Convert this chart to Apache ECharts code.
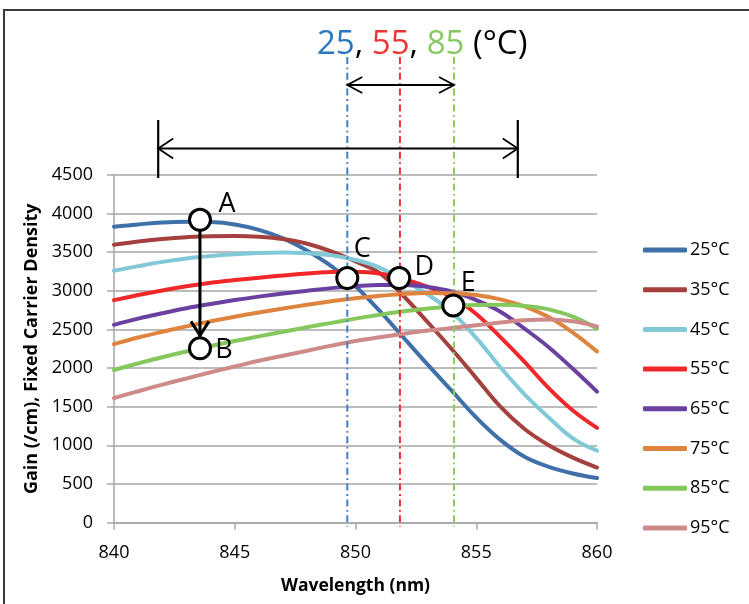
<!DOCTYPE html>
<html><head><meta charset="utf-8">
<script src="https://cdn.jsdelivr.net/npm/echarts@6/dist/echarts.min.js"></script>
<style>html,body{margin:0;padding:0;background:#fff}#c{width:749px;height:604px}</style>
</head><body><div id="c"></div>
<script>
// ---- data ----
const wavelengths = [840,841,842,843,844,845,846,847,848,849,850,851,852,853,854,855,856,857,858,859,860];
const gain25 = [3830,3860,3885,3895,3890,3860,3790,3680,3520,3320,3060,2740,2390,2040,1700,1360,1070,850,720,635,575];
const gain35 = [3596,3640,3672,3695,3708,3710,3700,3670,3610,3510,3380,3230,2930,2590,2240,1870,1500,1210,1000,840,712];
const gain45 = [3260,3320,3375,3420,3452,3475,3490,3495,3488,3460,3400,3300,3130,2950,2720,2390,2010,1660,1360,1090,930];
const gain55 = [2880,2945,3005,3060,3105,3140,3170,3198,3225,3243,3248,3225,3150,3050,2920,2700,2400,2080,1740,1450,1225];
const gain65 = [2560,2640,2710,2775,2830,2880,2925,2965,3000,3035,3060,3075,3075,3050,2990,2880,2730,2510,2270,1990,1695];
const gain75 = [2310,2395,2470,2540,2605,2665,2720,2770,2820,2865,2905,2935,2960,2972,2970,2945,2890,2800,2660,2460,2215];
const gain85 = [1975,2060,2140,2215,2285,2350,2410,2470,2530,2585,2640,2690,2735,2770,2800,2815,2820,2805,2760,2665,2510];
const gain95 = [1610,1700,1785,1865,1945,2020,2095,2160,2225,2290,2350,2400,2445,2485,2520,2555,2590,2620,2630,2605,2540];
const seriesNames = ['25°C','35°C','45°C','55°C','65°C','75°C','85°C','95°C'];
const seriesData = [gain25,gain35,gain45,gain55,gain65,gain75,gain85,gain95];
const seriesColors = ['#3f70aa','#a4403e','#82c9d8','#f0282a','#6a40a0','#df843f','#84c75c','#cd8a89'];
const xTickMin = 840, xTickMax = 860, xTickStep = 5;
const yTickMin = 0, yTickMax = 4500, yTickStep = 500;
const xAxisTitle = 'Wavelength (nm)';
const yAxisTitle = 'Gain (/cm), Fixed Carrier Density';
// annotation points (data coords)
const pointNames = ['A','B','C','D','E'];
const pointX = [843.56,843.56,849.66,851.81,854.05];
const pointY = [3920,2255,3165,3165,2810];
const markerTemps = ['25','55','85'];
const markerX = [849.66,851.84,854.08];
const markerColors = ['#3f80c8','#ee3030','#8ccc5e'];
const spanStart = 841.83, spanEnd = 856.72;

// ---- chart ----
const chart = echarts.init(document.getElementById('c'), null, {renderer:'canvas'});
const FONT = '"Open Sans", sans-serif';
const option = {
  animation:false,
  backgroundColor:'#fff',
  grid:{left:114, right:152, top:175, bottom:81.5, containLabel:false},
  xAxis:{type:'value', min:xTickMin, max:xTickMax, interval:xTickStep,
    name:xAxisTitle, nameLocation:'middle', nameGap:55,
    nameTextStyle:{fontFamily:FONT, fontWeight:'bold', fontSize:17.5, color:'#000'},
    axisLine:{show:true, onZero:false, lineStyle:{color:'#a6a6a6', width:1.5}},
    axisTick:{show:true, length:7, lineStyle:{color:'#a6a6a6', width:1.5}},
    axisLabel:{fontFamily:FONT, fontSize:18, color:'#000', margin:21},
    splitLine:{show:false}},
  yAxis:{type:'value', min:yTickMin, max:yTickMax, interval:yTickStep,
    name:yAxisTitle, nameLocation:'middle', nameGap:70,
    nameTextStyle:{fontFamily:FONT, fontWeight:'bold', fontSize:18, color:'#000'},
    axisLine:{show:true, lineStyle:{color:'#a6a6a6', width:1.5}},
    axisTick:{show:true, length:7, lineStyle:{color:'#a6a6a6', width:1.5}},
    axisLabel:{fontFamily:FONT, fontSize:18, color:'#000', margin:21, formatter:(v)=>String(v)},
    splitLine:{show:true, lineStyle:{color:'#a6a6a6', width:1.5}}},
  legend:{orient:'vertical', left:638, top:236, itemWidth:44, itemHeight:5, itemGap:21.7,
    icon:'roundRect',
    textStyle:{fontFamily:FONT, fontSize:18, color:'#000', lineHeight:18, padding:[0,0,0,-2]},
    data:seriesNames},
  series: seriesNames.map((n,i)=>({
    name:n, type:'line', smooth:0.4, showSymbol:false, symbol:'none',
    color:seriesColors[i],
    lineStyle:{width:4, color:seriesColors[i], cap:'round'},
    data: wavelengths.map((w,j)=>[w, seriesData[i][j]])
  }))
};
chart.setOption(option);

function px(x,y){ return chart.convertToPixel({gridIndex:0},[x,y]); }
const Z = 100;
const g = [];
// frame
g.push({type:'rect', z:Z, silent:true, shape:{x:4, y:10, width:900, height:800},
  style:{fill:null, stroke:'#3a3a3a', lineWidth:2}});
// dashed vertical markers
const axisBottom = px(xTickMin, 0)[1];
markerX.forEach((xv,i)=>{
  const p = px(xv, 0);
  g.push({type:'line', z:Z, silent:true, shape:{x1:p[0], y1:57, x2:p[0], y2:axisBottom+4},
    style:{stroke:markerColors[i], lineWidth:2, lineDash:[7,3.5,1.8,3.5]}});
});
function chevron(tx, ty, dir, len, half, lw){
  let pts;
  if(dir==='l') pts=[[tx+len,ty-half],[tx,ty],[tx+len,ty+half]];
  else if(dir==='r') pts=[[tx-len,ty-half],[tx,ty],[tx-len,ty+half]];
  else pts=[[tx-half,ty-len],[tx,ty],[tx+half,ty-len]];
  return {type:'polyline', z:Z+1, silent:true, shape:{points:pts}, style:{stroke:'#000', lineWidth:lw, fill:null}};
}
// small double arrow
{
  const yA = 85;
  const a = px(markerX[0],0)[0], b = px(markerX[2],0)[0];
  g.push({type:'line', z:Z+1, silent:true, shape:{x1:a, y1:yA, x2:b, y2:yA}, style:{stroke:'#000', lineWidth:1.8}});
  g.push(chevron(a, yA, 'l', 15, 8, 1.8));
  g.push(chevron(b, yA, 'r', 15, 8, 1.8));
}
// big span arrow
{
  const yA = 148.5;
  const a = px(spanStart,0)[0], b = px(spanEnd,0)[0];
  g.push({type:'line', z:Z+1, silent:true, shape:{x1:a, y1:yA, x2:b, y2:yA}, style:{stroke:'#000', lineWidth:1.8}});
  g.push(chevron(a, yA, 'l', 15, 10, 1.8));
  g.push(chevron(b, yA, 'r', 15, 10, 1.8));
  g.push({type:'line', z:Z+1, silent:true, shape:{x1:a, y1:120, x2:a, y2:178}, style:{stroke:'#000', lineWidth:2.2}});
  g.push({type:'line', z:Z+1, silent:true, shape:{x1:b, y1:120, x2:b, y2:178}, style:{stroke:'#000', lineWidth:2.2}});
}
// title "25, 55, 85 (°C)"
g.push({type:'text', z:Z+2, silent:true, x:317, y:61,
  style:{text:'{b|'+markerTemps[0]+'}{k|, }{r|'+markerTemps[1]+'}{k|, }{g|'+markerTemps[2]+'}{k| (°C)}',
    fontFamily:FONT, fontSize:33, verticalAlign:'bottom', align:'left',
    rich:{b:{fill:'#2a78c2', fontSize:33, fontFamily:FONT}, r:{fill:'#ef3434', fontSize:33, fontFamily:FONT},
          g:{fill:'#88c860', fontSize:33, fontFamily:FONT}, k:{fill:'#000', fontSize:33, fontFamily:FONT}}}});
// A -> B arrow
{
  const pa = px(pointX[0], pointY[0]), pb = px(pointX[1], pointY[1]);
  const tipY = pb[1] - 13;
  g.push({type:'line', z:Z+1, silent:true, shape:{x1:pa[0], y1:pa[1]+11, x2:pb[0], y2:tipY}, style:{stroke:'#000', lineWidth:3}});
  g.push(chevron(pb[0], tipY, 'd', 14, 9, 3));
}
// circles & labels
const labelDx = [27,24,15,25,15];
const labelDy = [-15,2,-29,-11,-22];
pointNames.forEach((n,i)=>{
  const p = px(pointX[i], pointY[i]);
  g.push({type:'circle', z:Z+3, silent:true, shape:{cx:p[0], cy:p[1], r:10.5},
    style:{fill:'#fff', stroke:'#000', lineWidth:3}});
  g.push({type:'text', z:Z+3, silent:true, x:p[0]+labelDx[i], y:p[1]+labelDy[i],
    style:{text:n, fontFamily:FONT, fontSize:27, fill:'#000', align:'center', verticalAlign:'middle'}});
});
chart.setOption({graphic:{elements:g}});
</script></body></html>
